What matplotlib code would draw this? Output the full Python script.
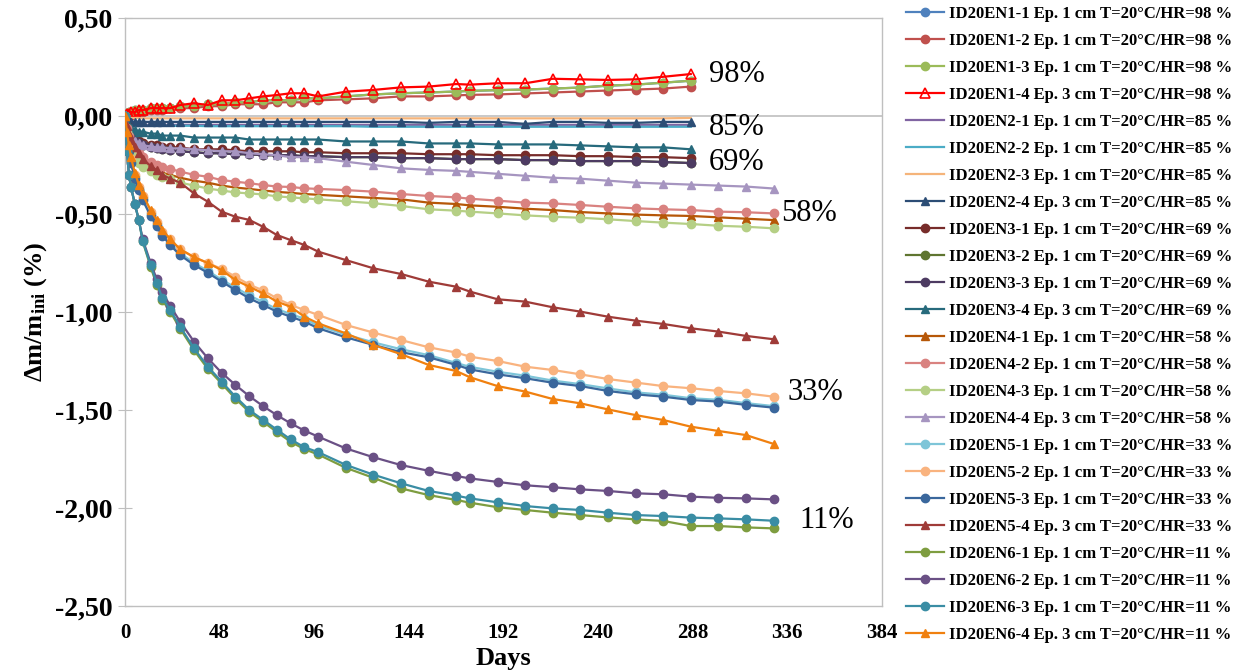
import matplotlib
matplotlib.use('Agg')

import matplotlib.pyplot as plt

plt.rcParams['font.family'] = ['Liberation Serif', 'DejaVu Serif']
plt.rcParams['mathtext.fontset'] = 'custom'
plt.rcParams['mathtext.rm'] = 'Liberation Serif:bold'
plt.rcParams['mathtext.it'] = 'Liberation Serif:bold'
plt.rcParams['mathtext.bf'] = 'Liberation Serif:bold'

# jours de pesée
days_long = [0, 1, 2, 3, 5, 7, 9, 13, 16, 19, 23, 28, 35, 42, 49, 56, 63, 70, 77, 84,
             91, 98, 112, 126, 140, 154, 168, 175, 189, 203, 217, 231, 245, 259, 273,
             287, 301, 315, 329]
days_short = days_long[:36]  # séries 98 / 85 / 69 % arrêtées à 287 j

# HR = 98 %
en1_1 = [0, 0.01, 0.02, 0.02, 0.03, 0.03, 0.03, 0.04, 0.04, 0.04, 0.04, 0.05, 0.05, 0.06, 0.06, 0.07, 0.07, 0.08,
         0.08, 0.08, 0.09, 0.09, 0.10, 0.11, 0.116, 0.12, 0.125, 0.128, 0.132, 0.135, 0.14, 0.145, 0.155, 0.16, 0.17, 0.18]
en1_2 = [0, 0.0, 0.01, 0.01, 0.02, 0.02, 0.02, 0.03, 0.03, 0.03, 0.04, 0.04, 0.04, 0.05, 0.05, 0.06, 0.06, 0.06,
         0.07, 0.07, 0.07, 0.08, 0.085, 0.09, 0.10, 0.10, 0.105, 0.108, 0.11, 0.115, 0.12, 0.125, 0.13, 0.135, 0.14, 0.15]
en1_3 = [0, 0.01, 0.02, 0.02, 0.03, 0.03, 0.03, 0.04, 0.04, 0.04, 0.04, 0.05, 0.05, 0.06, 0.06, 0.07, 0.07, 0.08,
         0.08, 0.08, 0.09, 0.09, 0.10, 0.11, 0.116, 0.12, 0.125, 0.128, 0.132, 0.135, 0.14, 0.145, 0.155, 0.16, 0.17, 0.18]
en1_4 = [0, 0.01, 0.01, 0.02, 0.02, 0.03, 0.03, 0.04, 0.04, 0.04, 0.04, 0.056, 0.065, 0.056, 0.08, 0.08, 0.09, 0.10,
         0.107, 0.116, 0.116, 0.10, 0.124, 0.133, 0.146, 0.15, 0.163, 0.16, 0.167, 0.167, 0.19, 0.187, 0.184, 0.187, 0.20, 0.214]

# HR = 85 %
en2_1 = [0, -0.03, -0.035, -0.04, -0.04, -0.045, -0.045, -0.045, -0.045, -0.045, -0.045, -0.045, -0.045, -0.045,
         -0.045, -0.045, -0.045, -0.045, -0.045, -0.045, -0.045, -0.045, -0.045, -0.045, -0.045, -0.045, -0.045,
         -0.045, -0.045, -0.045, -0.045, -0.045, -0.045, -0.045, -0.045, -0.045]
en2_2 = [0, -0.03, -0.04, -0.04, -0.05, -0.05, -0.05, -0.05, -0.05, -0.05, -0.05, -0.05, -0.05, -0.052, -0.052,
         -0.052, -0.052, -0.052, -0.052, -0.052, -0.052, -0.052, -0.052, -0.055, -0.055, -0.055, -0.055, -0.055,
         -0.055, -0.055, -0.055, -0.055, -0.055, -0.055, -0.055, -0.055]
en2_3 = [0, -0.01, -0.01, -0.01, -0.01, -0.01, -0.012, -0.012, -0.012, -0.012, -0.012, -0.012, -0.012, -0.012,
         -0.012, -0.012, -0.012, -0.012, -0.012, -0.012, -0.012, -0.012, -0.012, -0.012, -0.012, -0.012, -0.012,
         -0.012, -0.012, -0.012, -0.012, -0.012, -0.012, -0.012, -0.012, -0.01]
en2_4 = [0, -0.02, -0.02, -0.03, -0.03, -0.03, -0.03, -0.03, -0.03, -0.03, -0.03, -0.03, -0.03, -0.03, -0.03,
         -0.03, -0.03, -0.03, -0.03, -0.03, -0.03, -0.03, -0.03, -0.03, -0.03, -0.035, -0.03, -0.03, -0.03, -0.04,
         -0.03, -0.03, -0.035, -0.035, -0.03, -0.03]

# HR = 69 %
en3_1 = [0, -0.05, -0.08, -0.10, -0.12, -0.13, -0.14, -0.15, -0.15, -0.16, -0.16, -0.16, -0.17, -0.17, -0.17,
         -0.175, -0.18, -0.18, -0.18, -0.18, -0.185, -0.185, -0.19, -0.19, -0.19, -0.195, -0.195, -0.195, -0.20,
         -0.20, -0.20, -0.205, -0.205, -0.21, -0.21, -0.215]
en3_2 = [0, -0.06, -0.09, -0.11, -0.13, -0.14, -0.15, -0.16, -0.165, -0.17, -0.175, -0.18, -0.185, -0.19, -0.19,
         -0.195, -0.195, -0.20, -0.20, -0.20, -0.205, -0.205, -0.21, -0.21, -0.215, -0.215, -0.22, -0.22, -0.22,
         -0.225, -0.225, -0.23, -0.23, -0.23, -0.235, -0.24]
en3_3 = [0, -0.06, -0.09, -0.11, -0.13, -0.14, -0.15, -0.16, -0.165, -0.17, -0.175, -0.18, -0.185, -0.19, -0.19,
         -0.195, -0.195, -0.20, -0.20, -0.20, -0.205, -0.205, -0.21, -0.21, -0.215, -0.215, -0.22, -0.22, -0.22,
         -0.225, -0.225, -0.23, -0.23, -0.23, -0.235, -0.24]
en3_4 = [0, -0.03, -0.05, -0.06, -0.07, -0.08, -0.08, -0.09, -0.09, -0.10, -0.10, -0.10, -0.11, -0.11, -0.11,
         -0.11, -0.12, -0.12, -0.12, -0.12, -0.12, -0.12, -0.13, -0.13, -0.13, -0.14, -0.14, -0.14, -0.145, -0.145,
         -0.145, -0.15, -0.155, -0.16, -0.16, -0.17]

# HR = 58 %
en4_1 = [0, -0.07, -0.12, -0.15, -0.19, -0.22, -0.24, -0.26, -0.28, -0.29, -0.30, -0.315, -0.33, -0.34, -0.355,
         -0.365, -0.372, -0.38, -0.387, -0.392, -0.398, -0.402, -0.41, -0.418, -0.425, -0.442, -0.449, -0.456,
         -0.463, -0.473, -0.48, -0.49, -0.497, -0.503, -0.507, -0.51, -0.517, -0.524, -0.531]
en4_2 = [0, -0.06, -0.10, -0.13, -0.17, -0.19, -0.21, -0.235, -0.25, -0.26, -0.27, -0.284, -0.30, -0.31, -0.327,
         -0.335, -0.343, -0.352, -0.36, -0.362, -0.369, -0.372, -0.378, -0.386, -0.398, -0.408, -0.415, -0.422,
         -0.432, -0.442, -0.446, -0.454, -0.463, -0.471, -0.476, -0.48, -0.488, -0.491, -0.497]
en4_3 = [0, -0.08, -0.13, -0.17, -0.21, -0.24, -0.26, -0.28, -0.30, -0.31, -0.32, -0.34, -0.355, -0.37, -0.38,
         -0.39, -0.395, -0.40, -0.41, -0.415, -0.42, -0.425, -0.435, -0.445, -0.459, -0.476, -0.483, -0.488,
         -0.497, -0.507, -0.514, -0.519, -0.527, -0.536, -0.544, -0.551, -0.56, -0.565, -0.573]
en4_4 = [0, -0.05, -0.09, -0.11, -0.13, -0.14, -0.15, -0.155, -0.16, -0.16, -0.165, -0.165, -0.17, -0.175, -0.18,
         -0.18, -0.19, -0.195, -0.20, -0.21, -0.21, -0.215, -0.233, -0.25, -0.267, -0.275, -0.28, -0.285, -0.295,
         -0.305, -0.315, -0.32, -0.33, -0.34, -0.345, -0.35, -0.355, -0.36, -0.37]

# HR = 33 %
en5_1 = [0, -0.09, -0.17, -0.23, -0.31, -0.37, -0.42, -0.50, -0.55, -0.60, -0.65, -0.70, -0.75, -0.79, -0.835,
         -0.875, -0.915, -0.95, -0.985, -1.01, -1.035, -1.07, -1.115, -1.155, -1.19, -1.22, -1.26, -1.28, -1.305,
         -1.325, -1.35, -1.368, -1.39, -1.41, -1.422, -1.44, -1.448, -1.465, -1.48]
en5_2 = [0, -0.09, -0.16, -0.22, -0.30, -0.36, -0.41, -0.49, -0.54, -0.59, -0.63, -0.68, -0.72, -0.75, -0.78,
         -0.82, -0.86, -0.89, -0.93, -0.964, -0.99, -1.015, -1.066, -1.105, -1.143, -1.18, -1.207, -1.228, -1.25,
         -1.279, -1.296, -1.318, -1.342, -1.36, -1.378, -1.389, -1.403, -1.415, -1.432]
en5_3 = [0, -0.10, -0.18, -0.24, -0.32, -0.38, -0.43, -0.51, -0.56, -0.61, -0.66, -0.71, -0.76, -0.80, -0.845,
         -0.888, -0.93, -0.964, -0.998, -1.024, -1.049, -1.083, -1.129, -1.168, -1.205, -1.231, -1.27, -1.293,
         -1.318, -1.338, -1.361, -1.378, -1.403, -1.42, -1.432, -1.449, -1.457, -1.474, -1.488]
en5_4 = [0, -0.05, -0.09, -0.12, -0.16, -0.19, -0.22, -0.255, -0.276, -0.30, -0.32, -0.34, -0.395, -0.437,
         -0.488, -0.514, -0.53, -0.565, -0.607, -0.633, -0.658, -0.692, -0.735, -0.777, -0.806, -0.845, -0.871,
         -0.896, -0.935, -0.947, -0.976, -0.998, -1.024, -1.044, -1.061, -1.083, -1.10, -1.122, -1.139]

# HR = 11 %
en6_1 = [0, -0.18, -0.30, -0.36, -0.45, -0.53, -0.64, -0.77, -0.86, -0.94, -1.0, -1.085, -1.195, -1.29, -1.365,
         -1.442, -1.51, -1.56, -1.612, -1.662, -1.70, -1.727, -1.795, -1.846, -1.90, -1.934, -1.959, -1.973,
         -1.996, -2.01, -2.024, -2.036, -2.048, -2.058, -2.066, -2.092, -2.092, -2.099, -2.104]
en6_2 = [0, -0.18, -0.30, -0.36, -0.45, -0.53, -0.63, -0.75, -0.83, -0.90, -0.97, -1.05, -1.151, -1.236, -1.31,
         -1.372, -1.429, -1.48, -1.526, -1.568, -1.605, -1.636, -1.696, -1.741, -1.781, -1.81, -1.837, -1.849,
         -1.867, -1.884, -1.894, -1.905, -1.913, -1.925, -1.93, -1.942, -1.948, -1.951, -1.956]
en6_3 = [0, -0.18, -0.30, -0.36, -0.45, -0.53, -0.64, -0.76, -0.85, -0.93, -0.99, -1.075, -1.185, -1.279, -1.355,
         -1.432, -1.50, -1.55, -1.60, -1.65, -1.69, -1.715, -1.78, -1.83, -1.874, -1.913, -1.937, -1.951, -1.971,
         -1.99, -2.002, -2.01, -2.024, -2.036, -2.041, -2.049, -2.053, -2.058, -2.065]
en6_4 = [0, -0.08, -0.15, -0.21, -0.29, -0.35, -0.40, -0.48, -0.53, -0.58, -0.63, -0.68, -0.72, -0.75, -0.786,
         -0.837, -0.871, -0.905, -0.947, -0.973, -1.024, -1.058, -1.109, -1.168, -1.215, -1.27, -1.301, -1.333,
         -1.378, -1.406, -1.444, -1.466, -1.497, -1.526, -1.551, -1.585, -1.607, -1.628, -1.673]

series = [en1_1, en1_2, en1_3, en1_4, en2_1, en2_2, en2_3, en2_4, en3_1, en3_2, en3_3, en3_4,
          en4_1, en4_2, en4_3, en4_4, en5_1, en5_2, en5_3, en5_4, en6_1, en6_2, en6_3, en6_4]

labels = [
    "ID20EN1-1 Ep. 1 cm T=20°C/HR=98 %", "ID20EN1-2 Ep. 1 cm T=20°C/HR=98 %",
    "ID20EN1-3 Ep. 1 cm T=20°C/HR=98 %", "ID20EN1-4 Ep. 3 cm T=20°C/HR=98 %",
    "ID20EN2-1 Ep. 1 cm T=20°C/HR=85 %", "ID20EN2-2 Ep. 1 cm T=20°C/HR=85 %",
    "ID20EN2-3 Ep. 1 cm T=20°C/HR=85 %", "ID20EN2-4 Ep. 3 cm T=20°C/HR=85 %",
    "ID20EN3-1 Ep. 1 cm T=20°C/HR=69 %", "ID20EN3-2 Ep. 1 cm T=20°C/HR=69 %",
    "ID20EN3-3 Ep. 1 cm T=20°C/HR=69 %", "ID20EN3-4 Ep. 3 cm T=20°C/HR=69 %",
    "ID20EN4-1 Ep. 1 cm T=20°C/HR=58 %", "ID20EN4-2 Ep. 1 cm T=20°C/HR=58 %",
    "ID20EN4-3 Ep. 1 cm T=20°C/HR=58 %", "ID20EN4-4 Ep. 3 cm T=20°C/HR=58 %",
    "ID20EN5-1 Ep. 1 cm T=20°C/HR=33 %", "ID20EN5-2 Ep. 1 cm T=20°C/HR=33 %",
    "ID20EN5-3 Ep. 1 cm T=20°C/HR=33 %", "ID20EN5-4 Ep. 3 cm T=20°C/HR=33 %",
    "ID20EN6-1 Ep. 1 cm T=20°C/HR=11 %", "ID20EN6-2 Ep. 1 cm T=20°C/HR=11 %",
    "ID20EN6-3 Ep. 1 cm T=20°C/HR=11 %", "ID20EN6-4 Ep. 3 cm T=20°C/HR=11 %",
]

hr_labels = ["98%", "85%", "69%", "58%", "33%", "11%"]
hr_label_x = [296, 296, 296, 333, 336, 342]
hr_label_y = [0.21, -0.06, -0.235, -0.495, -1.41, -2.065]

colors = ['#4F81BD', '#C0504D', '#9BBB59', '#FF0000', '#8064A2', '#4BACC6', '#F5B47A', '#2C4D75',
          '#772C2A', '#5F7530', '#4D3B62', '#276A7C', '#B65708', '#D98280', '#B5CF85', '#A695C0',
          '#7EC5D8', '#F9B37F', '#3A679C', '#9F3B38', '#7E9D40', '#6A5085', '#3A8DA4', '#F0800F']
markers = ['o', 'o', 'o', '^', '', '', '', '^', 'o', 'o', 'o', '^',
           '^', 'o', 'o', '^', 'o', 'o', 'o', '^', 'o', 'o', 'o', '^']

fig = plt.figure(figsize=(12.44, 6.71), dpi=100, facecolor='white')
ax = fig.add_axes([125 / 1244, 1 - 606 / 671, (882 - 125) / 1244, (606 - 18) / 671])

for i, vals in enumerate(series):
    x = days_short if len(vals) == len(days_short) else days_long
    kw = dict(color=colors[i], lw=1.6, label=labels[i], zorder=3)
    if markers[i]:
        kw.update(marker=markers[i], ms=6, mec=colors[i], mfc=colors[i])
    if i == 3:
        kw.update(mfc='none', mew=1.2, ms=7)
    ax.plot(x, vals, **kw)

ax.axhline(0, color='#BFBFBF', lw=1.2, zorder=1)

ax.set_xlim(0, 384)
ax.set_ylim(-2.5, 0.5)
ax.set_xticks(range(0, 385, 48))
yt = [0.5, 0.0, -0.5, -1.0, -1.5, -2.0, -2.5]
ax.set_yticks(yt)
ax.set_yticklabels([f"{v:.2f}".replace('.', ',') for v in yt])

for sp in ax.spines.values():
    sp.set_color('#BFBFBF')
    sp.set_linewidth(1.0)

ax.tick_params(axis='y', direction='inout', length=10, color='#BFBFBF', pad=4,
               labelsize=20)
ax.tick_params(axis='x', length=0, pad=12, labelsize=15)
for lab in ax.get_xticklabels() + ax.get_yticklabels():
    lab.set_fontweight('bold')

ax.set_xlabel('Days', fontsize=19, fontweight='bold', labelpad=3)
ax.set_ylabel(r'Δm/m$_{\mathrm{ini}}$ (%)', fontsize=19, fontweight='bold', labelpad=4)

for txt, xx, yy in zip(hr_labels, hr_label_x, hr_label_y):
    ax.text(xx, yy, txt, fontsize=22, va='center', ha='left', zorder=5)

leg = fig.legend(loc='upper left', bbox_to_anchor=(900 / 1244, 1.0), frameon=False,
                 prop={'weight': 'bold', 'size': 12}, handlelength=2.3, handletextpad=0.3,
                 labelspacing=0.66, borderpad=0.35, borderaxespad=0)

fig.savefig('out.png', dpi=100, facecolor='white')
